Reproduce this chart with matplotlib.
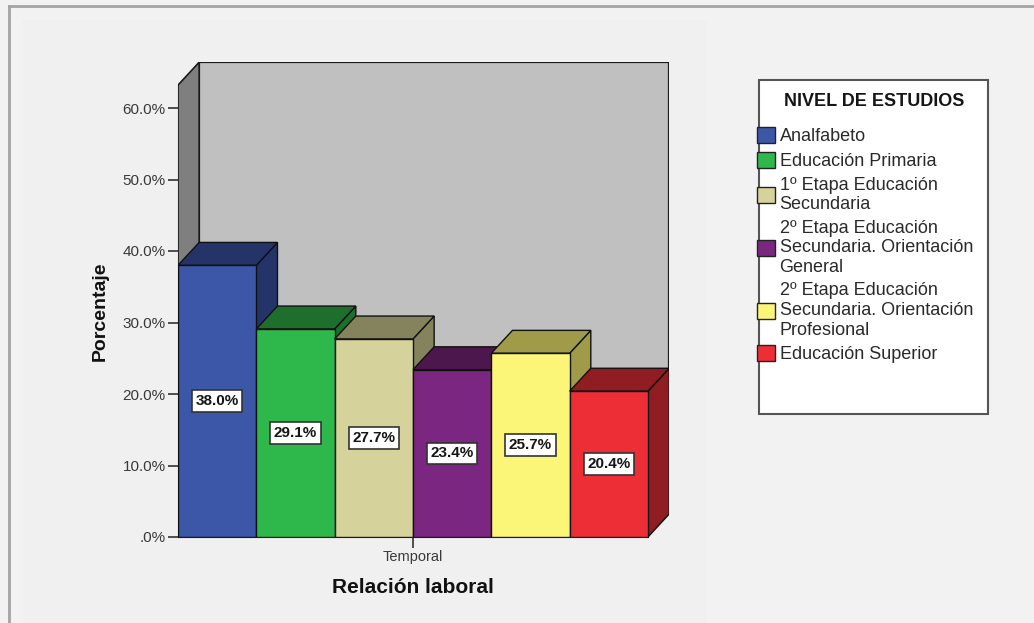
import matplotlib
matplotlib.use("Agg")
import matplotlib.pyplot as plt
from matplotlib.patches import Polygon, Rectangle, Patch

plt.rcParams['font.family'] = ['Liberation Sans', 'DejaVu Sans']

# datos: porcentaje por nivel de estudios, relacion laboral temporal
niveles = ['Analfabeto',
           'Educación Primaria',
           '1º Etapa Educación\nSecundaria',
           '2º Etapa Educación\nSecundaria. Orientación\nGeneral',
           '2º Etapa Educación\nSecundaria. Orientación\nProfesional',
           'Educación Superior']
porcentajes = [38.0, 29.1, 27.7, 23.4, 25.7, 20.4]
categoria = ['Temporal']
yticks = [0, 10, 20, 30, 40, 50, 60]
ytick_labels = ['.0%', '10.0%', '20.0%', '30.0%', '40.0%', '50.0%', '60.0%']

frente = ['#3d57a8', '#2eb84b', '#d6d29b', '#7b2680', '#fbf677', '#ee2e37']
oscuro = ['#243469', '#1e6e2e', '#85835d', '#4b174d', '#9f9b49', '#8f1d21']

# profundidad del efecto 3D (en unidades de datos)
dx, dy = 0.27, 3.2
ytop = 63.2

W, H = 1034, 623
fig = plt.figure(figsize=(W / 100, H / 100), dpi=100, facecolor='#f2f2f2')

# zona interior del grafico y marco exterior
fig.add_artist(Rectangle((22 / W, 0), (707 - 22) / W, 1 - 20 / H, transform=fig.transFigure,
                         fc='#f0f0f0', ec='none', zorder=0))
fig.add_artist(plt.Line2D([9 / W, 9 / W], [0, 1 - 6 / H], color='#a4a4a4', lw=2))
fig.add_artist(plt.Line2D([9 / W, 1], [1 - 6 / H, 1 - 6 / H], color='#a4a4a4', lw=2))

n = len(porcentajes)
ax = fig.add_axes([178 / W, 86 / H, (n + dx) * 78.33 / W, (ytop + dy) * 7.15 / H])
ax.set_facecolor('none')
ax.set_xlim(0, n + dx)
ax.set_ylim(0, ytop + dy)

# paredes del fondo y lateral
ax.add_patch(Polygon([(dx, dy), (n + dx, dy), (n + dx, ytop + dy), (dx, ytop + dy)],
                     closed=True, fc='#c0c0c0', ec='#1a1a1a', lw=1.6, zorder=1))
ax.add_patch(Polygon([(0, 0), (dx, dy), (dx, ytop + dy), (0, ytop)],
                     closed=True, fc='#7f7f7f', ec='#1a1a1a', lw=1.2, zorder=1))

# barras 3D
for i, v in enumerate(porcentajes):
    z = 2 + i
    ax.add_patch(Polygon([(i + 1, 0), (i + 1 + dx, dy), (i + 1 + dx, v + dy), (i + 1, v)],
                         closed=True, fc=oscuro[i], ec='#111111', lw=1, zorder=z))
    ax.add_patch(Polygon([(i, v), (i + dx, v + dy), (i + 1 + dx, v + dy), (i + 1, v)],
                         closed=True, fc=oscuro[i], ec='#111111', lw=1, zorder=z))
    ax.add_patch(Rectangle((i, 0), 1, v, fc=frente[i], ec='#111111', lw=1, zorder=z))
    ax.text(i + 0.5, v / 2, f'{v:.1f}%', ha='center', va='center', fontsize=11,
            fontweight='bold', color='#151515', zorder=20,
            bbox=dict(boxstyle='square,pad=0.24', fc='white', ec='#333333', lw=1.2))

for s in ['top', 'right']:
    ax.spines[s].set_visible(False)
ax.spines['left'].set_bounds(0, ytop)
ax.spines['left'].set_color('#1a1a1a')
ax.spines['bottom'].set_bounds(0, n)
ax.spines['bottom'].set_color('#1a1a1a')
ax.spines['left'].set_zorder(0)

ax.set_yticks(yticks, labels=ytick_labels)
ax.set_xticks([n / 2], labels=categoria)
ax.tick_params(axis='y', length=7, width=1.2, color='#333333', labelsize=11,
               labelcolor='#3a3a3a', pad=2)
ax.tick_params(axis='x', length=8, width=1.2, color='#333333', labelsize=10.5,
               labelcolor='#3a3a3a', pad=1)

ax.set_ylabel('Porcentaje', fontsize=14, fontweight='bold', color='#111111')
ax.yaxis.set_label_coords(-0.14, 31.6 / (ytop + dy))
ax.set_xlabel('Relación laboral', fontsize=15, fontweight='bold', color='#111111')
ax.xaxis.set_label_coords(3 / (n + dx), -0.086)

# leyenda
fig.add_artist(Rectangle((759 / W, 1 - 414 / H), (988 - 759) / W, (414 - 80) / H,
                         transform=fig.transFigure, fc='white', ec='#555555', lw=1.5))
fig.text(874 / W, 1 - 102 / H, 'NIVEL DE ESTUDIOS', ha='center', va='center',
         fontsize=13, fontweight='bold', color='#151515')
handles = [Patch(fc=c, ec='#222222', lw=1) for c in frente]
leg = fig.legend(handles, niveles, loc='upper left',
                 bbox_to_anchor=(757 / W, 1 - 127 / H), frameon=False, fontsize=13,
                 handlelength=1.0, handleheight=1.0, handletextpad=0.25,
                 labelspacing=0.36, borderpad=0, borderaxespad=0)
for t in leg.get_texts():
    t.set_color('#2a2a2a')
    t.set_linespacing(1.2)

fig.savefig('out.png', dpi=100, facecolor=fig.get_facecolor())
